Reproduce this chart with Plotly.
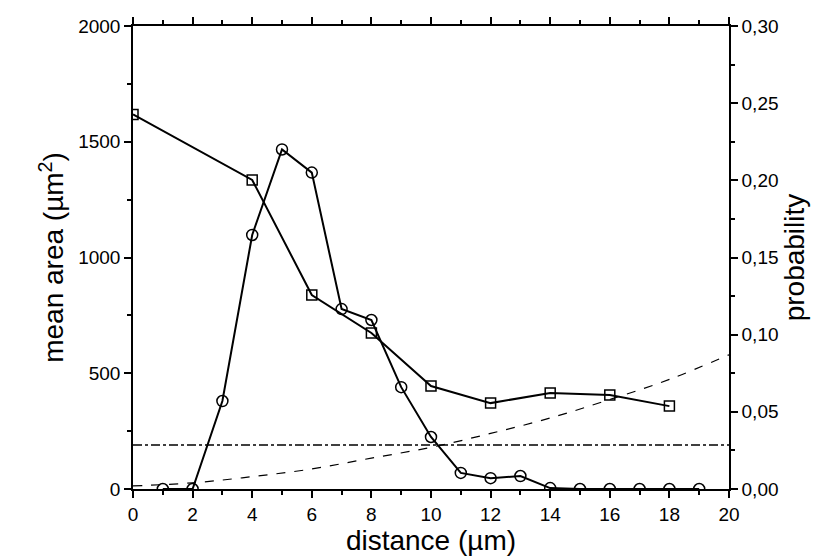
import plotly.graph_objects as go

sq_x = [0, 4, 6, 8, 10, 12, 14, 16, 18]
sq_area = [1618, 1335, 838, 674, 445, 371, 415, 406, 358]
ci_x = [1, 2, 3, 4, 5, 6, 7, 8, 9, 10, 11, 12, 13, 14, 15, 16, 17, 18, 19]
ci_prob = [0.0, 0.0, 0.057, 0.1646, 0.220, 0.205, 0.1166, 0.1095, 0.066, 0.0337,
           0.0104, 0.007, 0.0084, 0.0006, 0, 0, 0, 0, 0]
dash_x = [0, 2, 4, 6, 8, 10, 12, 14, 16, 18, 20]
dash_prob = [0.002, 0.004, 0.008, 0.013, 0.020, 0.027, 0.036, 0.046, 0.058, 0.071, 0.087]
hline_area = 190
right_ticks = [0, 0.05, 0.10, 0.15, 0.20, 0.25, 0.30]
right_labels = ["0,00", "0,05", "0,10", "0,15", "0,20", "0,25", "0,30"]

fig = go.Figure()
fig.add_trace(go.Scatter(x=[0, 20], y=[hline_area, hline_area], mode="lines",
                         line=dict(color="black", width=1.3, dash="dashdot")))
fig.add_trace(go.Scatter(x=dash_x, y=dash_prob, yaxis="y2", mode="lines", line_shape="spline",
                         line=dict(color="black", width=1.2, dash="dash")))
fig.add_trace(go.Scatter(x=sq_x, y=sq_area, mode="lines+markers",
                         line=dict(color="black", width=2),
                         marker=dict(symbol="square-open", size=10, color="black", line=dict(width=1.5))))
fig.add_trace(go.Scatter(x=ci_x, y=ci_prob, yaxis="y2", mode="lines+markers",
                         line=dict(color="black", width=2),
                         marker=dict(symbol="circle-open", size=11, color="black", line=dict(width=1.5))))

ax = dict(showgrid=False, zeroline=False, showline=True, linecolor="black", linewidth=1.5,
          ticks="outside", ticklen=7, tickwidth=1.5, tickcolor="black", automargin=False,
          tickfont=dict(size=19, color="black"))
fig.update_layout(
    width=830, height=557, plot_bgcolor="white", paper_bgcolor="white",
    margin=dict(l=125, r=109, t=18, b=76, autoexpand=False), showlegend=False,
    font=dict(family="Liberation Sans, Arial", color="black"),
    xaxis=dict(**ax, range=[0, 20], dtick=2, mirror="ticks",
               minor=dict(dtick=1, ticks="outside", ticklen=4, tickcolor="black"),
               title=dict(text="distance (µm)", font=dict(size=28), standoff=0)),
    yaxis=dict(**ax, range=[0, 2000], dtick=500,
               minor=dict(dtick=250, ticks="outside", ticklen=4, tickcolor="black"),
               title=dict(text="mean area (µm<sup>2</sup>)", font=dict(size=28), standoff=6)),
    yaxis2=dict(**ax, overlaying="y", side="right", range=[0, 0.30],
                tickvals=right_ticks, ticktext=right_labels,
                minor=dict(dtick=0.025, ticks="outside", ticklen=4, tickcolor="black"),
                title=dict(text="probability", font=dict(size=28), standoff=6)),
)
fig.write_html("out.html")
